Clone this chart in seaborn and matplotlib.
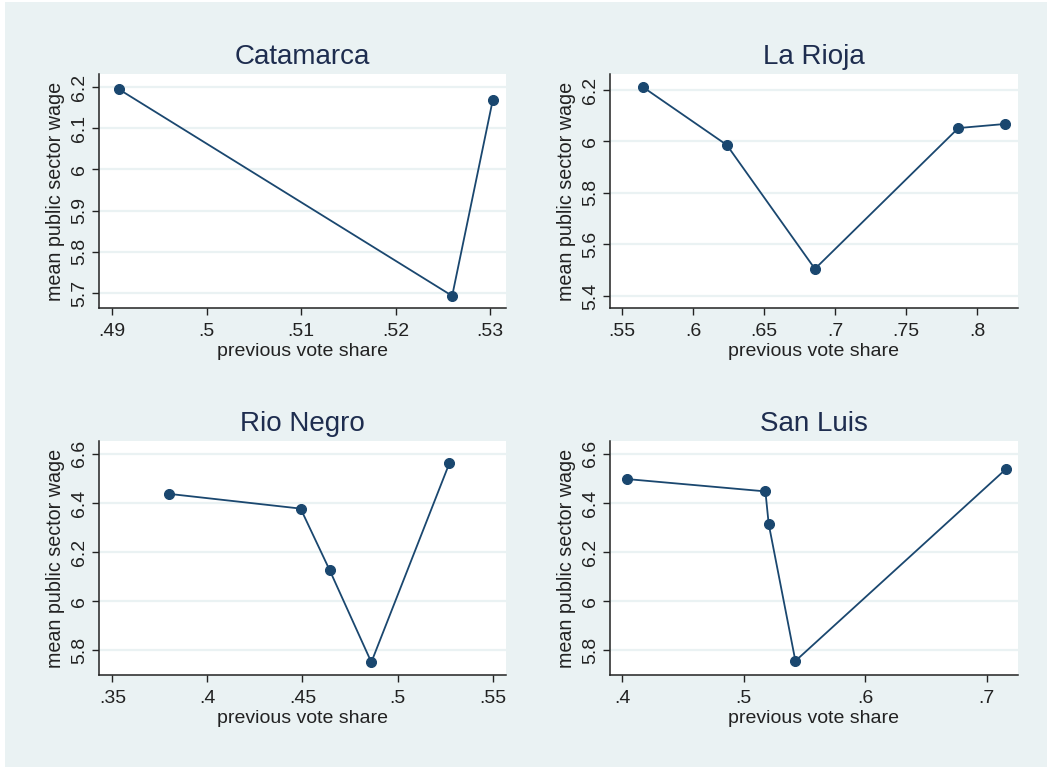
import matplotlib
matplotlib.use("Agg")
import matplotlib.pyplot as plt
import seaborn as sns
import pandas as pd
from matplotlib.patches import Rectangle

# donnees
catamarca_x = [0.4907, 0.5260, 0.5303]
catamarca_y = [6.195, 5.693, 6.169]

larioja_x = [0.5651, 0.6239, 0.6859, 0.7869, 0.8200]
larioja_y = [6.210, 5.986, 5.505, 6.052, 6.068]

rionegro_x = [0.3797, 0.4490, 0.4642, 0.4862, 0.5272]
rionegro_y = [6.437, 6.377, 6.128, 5.752, 6.561]

sanluis_x = [0.4044, 0.5180, 0.5207, 0.5427, 0.7158]
sanluis_y = [6.497, 6.447, 6.315, 5.757, 6.537]

provinces = ["Catamarca", "La Rioja", "Rio Negro", "San Luis"]
xticks = [[0.49, 0.50, 0.51, 0.52, 0.53],
          [0.55, 0.60, 0.65, 0.70, 0.75, 0.80],
          [0.35, 0.40, 0.45, 0.50, 0.55],
          [0.4, 0.5, 0.6, 0.7]]
xticklabels = [[".49", ".5", ".51", ".52", ".53"],
               [".55", ".6", ".65", ".7", ".75", ".8"],
               [".35", ".4", ".45", ".5", ".55"],
               [".4", ".5", ".6", ".7"]]
yticks = [[5.7, 5.8, 5.9, 6.0, 6.1, 6.2],
          [5.4, 5.6, 5.8, 6.0, 6.2],
          [5.8, 6.0, 6.2, 6.4, 6.6],
          [5.8, 6.0, 6.2, 6.4, 6.6]]
yticklabels = [["5.7", "5.8", "5.9", "6", "6.1", "6.2"],
               ["5.4", "5.6", "5.8", "6", "6.2"],
               ["5.8", "6", "6.2", "6.4", "6.6"],
               ["5.8", "6", "6.2", "6.4", "6.6"]]
xlims = [(0.4886, 0.5317), (0.5416, 0.8289), (0.343, 0.557), (0.3901, 0.7259)]
ylims = [(5.6635, 6.232), (5.353, 6.262), (5.70, 6.652), (5.70, 6.652)]

df = pd.concat([
    pd.DataFrame({"province": "Catamarca", "vote": catamarca_x, "wage": catamarca_y}),
    pd.DataFrame({"province": "La Rioja", "vote": larioja_x, "wage": larioja_y}),
    pd.DataFrame({"province": "Rio Negro", "vote": rionegro_x, "wage": rionegro_y}),
    pd.DataFrame({"province": "San Luis", "vote": sanluis_x, "wage": sanluis_y}),
])

sns.set_style("white")
plt.rcParams['font.family'] = ['Liberation Sans', 'DejaVu Sans']

bg = "#eaf2f3"
navy = "#1a476f"
dark = "#222222"

fig = plt.figure(figsize=(10.47, 7.67), dpi=100)
fig.patches.append(Rectangle((5 / 1047, 0), 1 - 5 / 1047, 1 - 2 / 767,
                             transform=fig.transFigure, facecolor=bg,
                             edgecolor="none", zorder=-10))

W, H = 1047, 767
boxes = [(99, 506, 74, 308), (610, 1018, 74, 308),
         (99, 506, 441, 675), (610, 1018, 441, 675)]

for i, prov in enumerate(provinces):
    l, r, t, b = boxes[i]
    ax = fig.add_axes([l / W, (H - b) / H, (r - l) / W, (b - t) / H])
    ax.set_facecolor("white")
    sub = df[df["province"] == prov]
    sns.lineplot(data=sub, x="vote", y="wage", ax=ax, color=navy, sort=False,
                 marker="o", markersize=7.2, markeredgecolor=navy,
                 linewidth=1.3, zorder=3)
    ax.set_xlim(*xlims[i])
    ax.set_ylim(*ylims[i])
    ax.set_xticks(xticks[i])
    ax.set_xticklabels(xticklabels[i])
    ax.set_yticks(yticks[i])
    ax.set_yticklabels(yticklabels[i], rotation=90, va="center")
    for y in yticks[i]:
        ax.axhline(y, color=bg, linewidth=1.6, zorder=1)
    ax.set_title(prov, fontsize=20, color="#1e2d4f", pad=7)
    ax.set_xlabel("previous vote share", fontsize=14, color=dark, labelpad=2)
    ax.set_ylabel("mean public sector wage", fontsize=14.2, color=dark, labelpad=4)
    ax.tick_params(axis="x", direction="out", length=5, width=1,
                   color=dark, labelsize=14, labelcolor=dark, pad=6)
    ax.tick_params(axis="y", direction="out", length=5, width=1,
                   color=dark, labelsize=14, labelcolor=dark, pad=3)
    ax.tick_params(left=True, bottom=True)
    sns.despine(ax=ax)
    for s in ["left", "bottom"]:
        ax.spines[s].set_color(dark)
        ax.spines[s].set_linewidth(1.1)

plt.savefig("out.png", dpi=100, facecolor="white")
